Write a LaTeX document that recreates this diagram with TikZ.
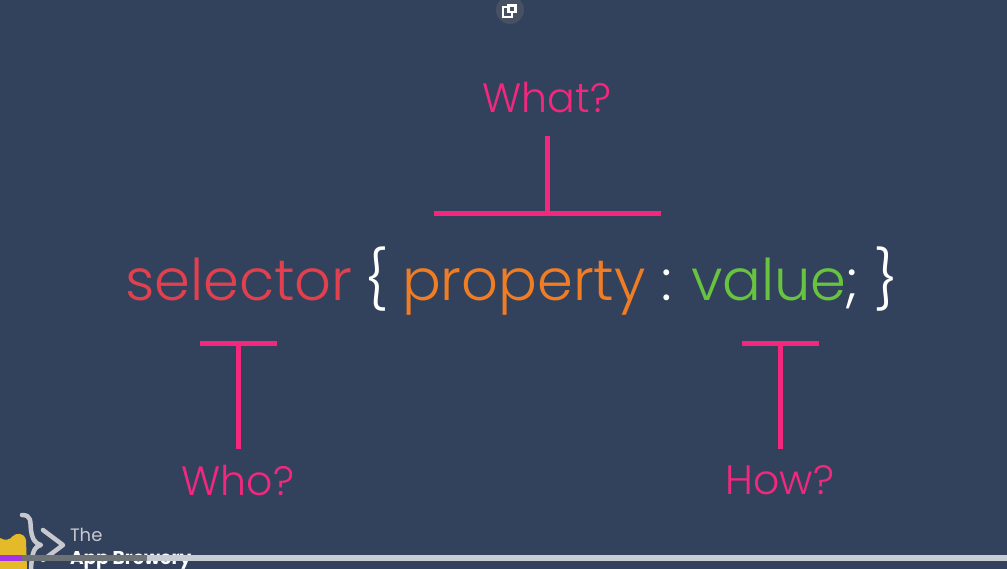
\documentclass[tikz,border=0pt]{standalone}
\usepackage{fontspec}
\setmainfont{Poppins Light}
\newfontfamily\logofont{Poppins}
\usetikzlibrary{positioning}
\definecolor{slide}{RGB}{50,66,93}
\definecolor{pinkline}{RGB}{243,40,125}
\definecolor{selred}{RGB}{226,64,78}
\definecolor{proporange}{RGB}{240,125,35}
\definecolor{valgreen}{RGB}{104,195,64}
\definecolor{logogrey}{RGB}{200,200,208}
\definecolor{barlight}{RGB}{200,204,212}
\definecolor{bardark}{RGB}{108,114,118}
\definecolor{barpurple}{RGB}{165,50,235}
\definecolor{logoyellow}{RGB}{228,186,40}
\definecolor{iconback}{RGB}{72,80,100}
\begin{document}
\begin{tikzpicture}[x=1pt,y=-1pt,
		every node/.style={inner sep=0pt,outer sep=0pt},
		code/.style={anchor=base west,font=\fontsize{57.5}{58}\selectfont},
		question/.style={pinkline,font=\fontsize{41}{41}\selectfont},
		tbar/.style={draw=pinkline,line width=5pt}
	]
	\path[fill=slide,use as bounding box] (0,0) rectangle (1007,569);
	% code line
	\node[code,selred](Selector) at (125,301){selector};
	\node[code,white](OpenB) at (364,301){\{};
	\node[code,proporange](Property) at (402,301){property};
	\node[code,white](Colon) at (661,301){:};
	\node[code,valgreen](Value) at (691,301){value};
	\node[code,white](Semi) at (845,301){;};
	\node[code,white](CloseB) at (874,301){\}};
	% questions
	\node[question](What) at (547,97){What?};
	\node[question](Who) at (238,480){Who?};
	\node[question](How) at (780,480){How?};
	% T shapes
	\coordinate (WhatL) at (434,213.5);
	\coordinate (WhatR) at (661,213.5);
	\coordinate (WhatM) at (547,213.5);
	\coordinate (WhatT) at (547,136);
	\coordinate (WhoL) at (200,343.5);
	\coordinate (WhoR) at (277,343.5);
	\coordinate (WhoM) at (238,343.5);
	\coordinate (WhoB) at (238,449);
	\coordinate (HowL) at (742,343.5);
	\coordinate (HowR) at (819,343.5);
	\coordinate (HowM) at (780,343.5);
	\coordinate (HowB) at (780,449);
	\draw[tbar] (WhatL)--(WhatR);
	\draw[tbar] (WhatT)--(WhatM);
	\draw[tbar] (WhoL)--(WhoR);
	\draw[tbar] (WhoM)--(WhoB);
	\draw[tbar] (HowL)--(HowR);
	\draw[tbar] (HowM)--(HowB);
	% logo
	\fill[logoyellow] (0,538) .. controls (5,541) and (10,540) .. (13,536) .. controls (16,533) and (24,532) .. (26,540)--(27,569)--(0,569)--cycle;
	\draw[logogrey,line width=4.5pt,line cap=round,line join=round] (22,515) .. controls (32,515) and (30,522) .. (31,530) .. controls (32,538) and (34,543) .. (41,545) .. controls (34,547) and (32,552) .. (31,569);
	\draw[logogrey,line width=4.5pt,line cap=round,line join=round] (43,530)--(63,545)--(43,560);
	\node[anchor=base west,text=logogrey,font=\logofont\fontsize{18}{18}\selectfont](LogoThe) at (70,541){The};
	\node[anchor=base west,text=white,font=\logofont\bfseries\fontsize{18.5}{19}\selectfont](LogoName) at (70,564){App Brewery};
	% video bar
	\fill[barlight] (0,555) rectangle (1007,561);
	\fill[bardark] (0,555) rectangle (147,561);
	\fill[barpurple] (0,555) rectangle (22,561);
	% window icon
	\fill[iconback] (510,10) circle (14);
	\draw[white,line width=1.6pt] (503,7) rectangle (512,17);
	\fill[white] (507,4) rectangle (517,13);
	\fill[iconback] (510,7) rectangle (514,11);
\end{tikzpicture}
\end{document}
